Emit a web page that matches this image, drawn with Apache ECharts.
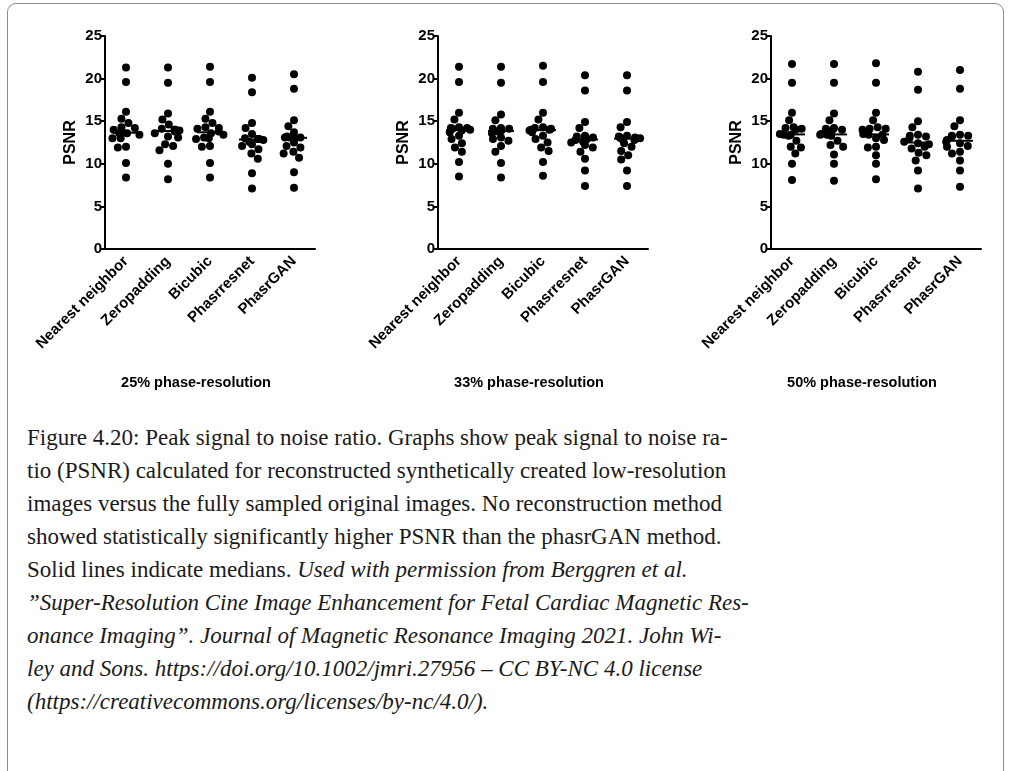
<!DOCTYPE html>
<html>
<head>
<meta charset="utf-8">
<title>PSNR</title>
<script src="https://cdn.jsdelivr.net/npm/echarts@6.0.0/dist/echarts.min.js"></script>
<style>
  body { margin: 0; width: 1010px; height: 771px; background: #fff; overflow: hidden; position: relative; }
  #frame { position: absolute; left: 7px; top: 3px; width: 995px; height: 820px; border: 1px solid #8c8c8c; border-radius: 9px; }
  #chart { position: absolute; left: 0; top: 0; width: 1010px; height: 405px; }
  #caption { position: absolute; left: 27px; top: 421px; font-family: 'Liberation Serif', 'Times New Roman', 'DejaVu Serif', serif; font-size: 23px; line-height: 33px; color: #1a1a1a; white-space: nowrap; }
  #caption i { font-style: italic; }
</style>
</head>
<body>
<div id="frame"></div>
<div id="chart"></div>
<div id="caption">
  <div>Figure 4.20: Peak signal to noise ratio. Graphs show peak signal to noise ra-</div>
  <div>tio (PSNR) calculated for reconstructed synthetically created low-resolution</div>
  <div>images versus the fully sampled original images. No reconstruction method</div>
  <div>showed statistically significantly higher PSNR than the phasrGAN method.</div>
  <div>Solid lines indicate medians. <i>Used with permission from Berggren et al.</i></div>
  <div><i>”Super-Resolution Cine Image Enhancement for Fetal Cardiac Magnetic Res-</i></div>
  <div><i>onance Imaging”. Journal of Magnetic Resonance Imaging 2021. John Wi-</i></div>
  <div><i>ley and Sons. https://doi.org/10.1002/jmri.27956 – CC BY-NC 4.0 license</i></div>
  <div><i>(https://creativecommons.org/licenses/by-nc/4.0/).</i></div>
</div>
<script>
// categories
var methods = ['Nearest neighbor', 'Zeropadding', 'Bicubic', 'Phasrresnet', 'PhasrGAN'];
var panelTitles = ['25% phase-resolution', '33% phase-resolution', '50% phase-resolution'];
var yTicks = [0, 5, 10, 15, 20, 25];

// PSNR per method, 25% phase-resolution
var nn25 = [21.3, 19.6, 16.1, 15.3, 14.8, 14.3, 14.2, 14.0, 13.7, 13.6, 13.6, 13.4, 13.0, 13.0, 12.0, 11.9, 10.1, 8.4];
var zp25 = [21.3, 19.5, 15.9, 15.2, 14.6, 14.1, 14.0, 14.0, 13.9, 13.8, 13.6, 13.2, 13.1, 12.3, 12.1, 11.6, 10.0, 8.2];
var bc25 = [21.4, 19.6, 16.1, 15.3, 14.8, 14.3, 14.2, 14.1, 13.8, 13.6, 13.4, 13.1, 13.0, 12.9, 12.1, 12.0, 10.1, 8.4];
var pr25 = [20.1, 18.4, 14.8, 14.2, 13.5, 13.0, 12.9, 12.9, 12.9, 12.8, 12.6, 12.3, 12.1, 11.7, 11.2, 10.6, 8.9, 7.1];
var pg25 = [20.5, 18.8, 15.1, 14.4, 13.7, 13.2, 13.1, 13.1, 13.1, 13.0, 12.5, 12.1, 11.9, 11.4, 11.2, 10.7, 9.0, 7.2];

// 33% phase-resolution
var nn33 = [21.4, 19.6, 16.0, 15.2, 14.3, 14.2, 14.2, 14.1, 14.0, 13.9, 13.7, 13.3, 12.9, 12.4, 11.9, 11.4, 10.2, 8.5];
var zp33 = [21.4, 19.5, 15.8, 15.1, 14.2, 14.1, 14.1, 14.0, 13.9, 13.8, 13.6, 13.1, 12.9, 12.7, 12.1, 11.4, 10.1, 8.4];
var bc33 = [21.5, 19.6, 16.0, 15.2, 14.3, 14.2, 14.1, 14.0, 14.0, 13.9, 13.7, 13.3, 12.9, 12.5, 11.9, 11.5, 10.2, 8.6];
var pr33 = [20.4, 18.6, 14.9, 14.2, 13.3, 13.2, 13.1, 13.1, 12.9, 12.8, 12.6, 12.5, 12.2, 11.9, 11.4, 10.6, 9.2, 7.4];
var pg33 = [20.4, 18.6, 14.9, 14.3, 13.3, 13.2, 13.1, 13.1, 13.0, 12.9, 12.8, 12.4, 12.0, 11.5, 11.0, 10.5, 9.2, 7.4];

// 50% phase-resolution
var nn50 = [21.7, 19.5, 16.0, 15.1, 14.3, 14.2, 14.1, 14.0, 13.5, 13.4, 13.4, 13.3, 12.7, 12.0, 11.9, 11.2, 10.0, 8.1];
var zp50 = [21.7, 19.5, 15.9, 15.1, 14.2, 14.1, 14.0, 14.0, 13.5, 13.4, 13.4, 13.3, 12.7, 12.2, 12.0, 11.1, 10.0, 8.0];
var bc50 = [21.8, 19.5, 16.0, 15.1, 14.3, 14.1, 14.1, 14.0, 13.5, 13.4, 13.4, 13.0, 12.8, 12.0, 11.9, 11.0, 10.0, 8.2];
var pr50 = [20.8, 18.7, 15.0, 14.3, 13.4, 13.3, 13.2, 13.0, 12.6, 12.4, 12.3, 12.0, 11.8, 11.3, 11.0, 10.4, 9.2, 7.1];
var pg50 = [21.0, 18.8, 15.1, 14.4, 13.4, 13.3, 13.3, 13.2, 12.8, 12.6, 12.4, 12.1, 12.0, 11.4, 11.2, 10.4, 9.2, 7.3];

var panels = [
  [nn25, zp25, bc25, pr25, pg25],
  [nn33, zp33, bc33, pr33, pg33],
  [nn50, zp50, bc50, pr50, pg50]
];

function median(arr) {
  var s = arr.slice().sort(function (a, b) { return a - b; });
  var m = Math.floor(s.length / 2);
  return s.length % 2 ? s[m] : (s[m - 1] + s[m]) / 2;
}

var FONT = '"Liberation Sans", Arial, sans-serif';
var grids = [], xAxes = [], yAxes = [], series = [], texts = [];

for (var p = 0; p < 3; p++) {
  var left = 105 + 333 * p;
  grids.push({ left: left, top: 36, width: 210, height: 213, containLabel: false, outerBoundsMode: 'none' });

  xAxes.push({
    type: 'category', gridIndex: p, data: methods, boundaryGap: true,
    jitter: 28, jitterOverlap: false, jitterMargin: 0.2,
    axisLine: { lineStyle: { color: '#000', width: 2 } },
    axisTick: { alignWithLabel: true, length: 7, lineStyle: { color: '#000', width: 2 } },
    axisLabel: { rotate: 45, interval: 0, margin: 10, color: '#000', fontWeight: 'bold', fontSize: 15, fontFamily: FONT },
    splitLine: { show: false }
  });

  yAxes.push({
    type: 'value', gridIndex: p, min: yTicks[0], max: yTicks[yTicks.length - 1], interval: 5,
    name: 'PSNR', nameLocation: 'middle', nameGap: 26,
    nameTextStyle: { color: '#000', fontWeight: 'bold', fontSize: 16, fontFamily: FONT },
    axisLine: { show: true, lineStyle: { color: '#000', width: 2 } },
    axisTick: { show: true, length: 5, lineStyle: { color: '#000', width: 2 } },
    axisLabel: { margin: 3, color: '#000', fontWeight: 'bold', fontSize: 15, fontFamily: FONT },
    splitLine: { show: false }
  });

  var pts = [], meds = [];
  panels[p].forEach(function (vals, i) {
    vals.forEach(function (v) { pts.push([i, v]); });
    meds.push([i, median(vals)]);
  });

  series.push({
    type: 'scatter', xAxisIndex: p, yAxisIndex: p, data: pts,
    symbol: 'circle', symbolSize: 8, itemStyle: { color: '#000', opacity: 1 },
    silent: true, z: 2
  });

  series.push({
    type: 'custom', xAxisIndex: p, yAxisIndex: p, data: meds, z: 3, silent: true,
    renderItem: function (params, api) {
      var c = api.coord([api.value(0), api.value(1)]);
      return {
        type: 'line',
        shape: { x1: c[0] - 13, y1: c[1], x2: c[0] + 13, y2: c[1] },
        style: { stroke: '#000', lineWidth: 2 }
      };
    }
  });

  texts.push({
    type: 'text', x: left + 91, y: 383,
    style: { text: panelTitles[p], fill: '#000', font: 'bold 14.5px ' + FONT, align: 'center', verticalAlign: 'middle' }
  });
}

var myChart = echarts.init(document.getElementById('chart'), null, { renderer: 'canvas' });
myChart.setOption({
  animation: false,
  backgroundColor: 'transparent',
  grid: grids,
  xAxis: xAxes,
  yAxis: yAxes,
  series: series,
  graphic: texts
});
</script>
</body>
</html>
